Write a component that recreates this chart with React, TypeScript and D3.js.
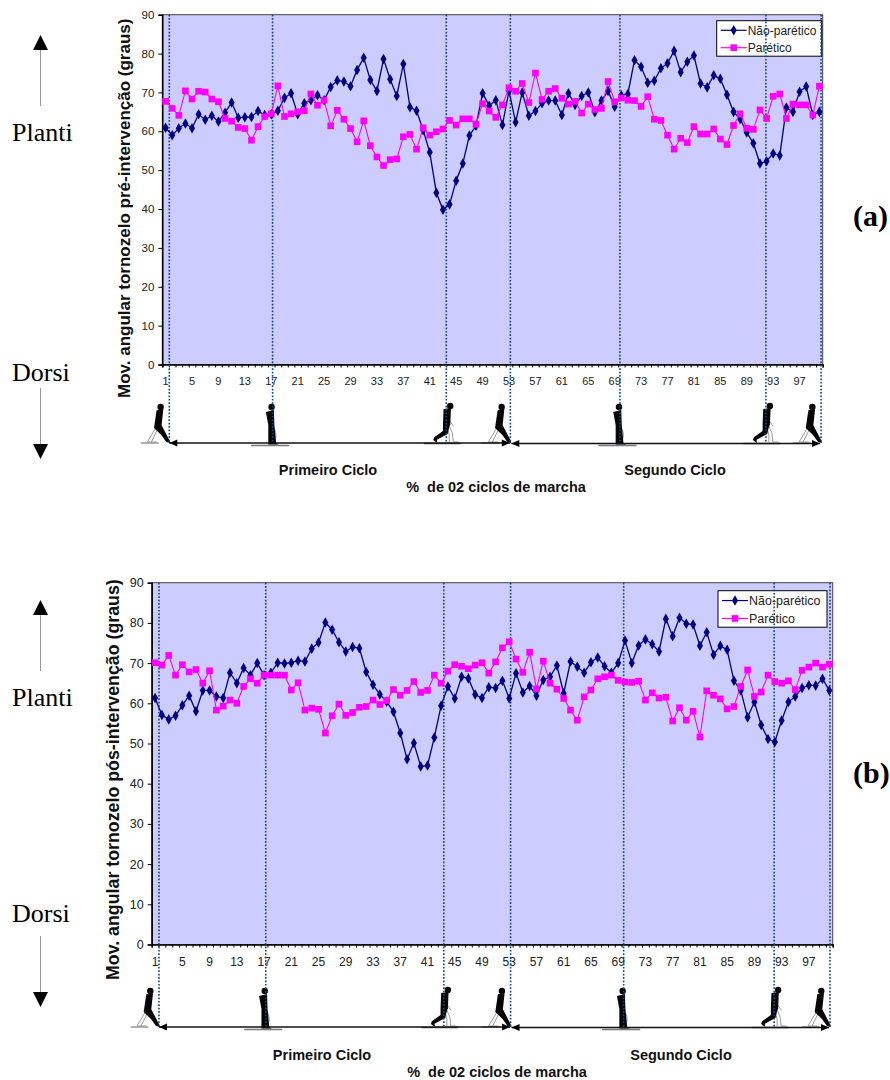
import React, { useEffect, useRef } from 'react'
import * as d3 from 'd3'

// Values, one per % of the two gait cycles (1 to 100)
const preNaoParetico = [
  60.9, 59.0, 60.8, 62.0, 60.8, 64.4, 63.0, 64.0, 62.5, 64.8, 67.4, 63.5, 63.6, 63.7, 65.2, 64.2, 64.4, 65.3, 68.6, 69.8,
  64.4, 67.2, 68.0, 69.3, 68.0, 71.4, 73.1, 72.8, 71.6, 75.8, 78.9, 73.2, 70.4, 78.6, 73.4, 69.1, 77.3, 66.2, 65.3, 60.3,
  54.6, 44.2, 39.8, 41.2, 47.3, 51.7, 58.9, 61.4, 69.8, 66.6, 68.0, 61.6, 70.4, 62.3, 70.0, 64.0, 65.2, 67.2, 67.9, 67.9,
  64.2, 69.8, 66.8, 69.1, 70.0, 64.9, 67.9, 70.4, 66.3, 69.3, 69.6, 78.3, 76.6, 72.5, 73.0, 76.2, 77.5, 80.7, 75.2, 77.9,
  79.5, 72.3, 71.3, 74.4, 73.5, 69.4, 65.0, 63.2, 59.7, 56.9, 51.7, 52.3, 54.3, 53.8, 66.1, 65.0, 70.2, 71.5, 64.2, 65.0,
]
const preParetico = [
  67.7, 65.9, 64.1, 70.4, 68.3, 70.3, 70.1, 68.3, 67.6, 63.3, 62.6, 61.0, 60.7, 57.7, 61.2, 63.8, 64.5, 71.7, 63.8, 64.5,
  65.0, 65.3, 69.6, 66.7, 68.0, 61.4, 65.4, 63.1, 60.7, 57.3, 62.7, 56.3, 53.4, 51.2, 52.7, 52.9, 58.6, 59.2, 55.4, 60.9,
  59.0, 59.9, 60.6, 62.8, 61.6, 63.2, 63.2, 61.8, 67.1, 65.2, 63.6, 66.8, 71.2, 70.3, 72.3, 67.4, 75.0, 68.2, 70.3, 71.0,
  68.5, 67.0, 67.7, 64.7, 67.0, 65.6, 65.9, 72.8, 67.6, 68.6, 68.0, 67.9, 66.4, 68.9, 63.1, 62.8, 59.0, 55.4, 58.2, 57.1,
  61.2, 59.3, 59.3, 60.6, 58.0, 56.6, 61.5, 64.5, 60.8, 60.5, 65.5, 63.3, 69.0, 69.6, 63.3, 67.0, 66.8, 66.8, 64.2, 71.6,
]
const posNaoParetico = [
  61.3, 57.1, 56.0, 56.9, 59.5, 61.9, 58.0, 63.2, 63.2, 61.7, 61.3, 67.6, 65.0, 68.8, 67.0, 70.0, 67.0, 67.6, 70.1, 69.9,
  70.1, 70.6, 70.4, 73.6, 75.1, 80.1, 78.3, 75.2, 72.9, 74.0, 73.7, 67.8, 64.6, 62.2, 60.4, 57.9, 52.6, 46.1, 50.1, 44.3,
  44.5, 51.5, 59.4, 64.2, 61.2, 66.6, 66.2, 62.2, 61.3, 64.0, 63.8, 65.6, 61.2, 67.5, 62.7, 64.3, 61.9, 65.8, 66.6, 69.4,
  62.5, 70.4, 69.1, 67.6, 70.2, 71.4, 69.2, 67.6, 70.0, 75.6, 70.0, 74.4, 75.9, 74.7, 72.9, 81.0, 76.7, 81.3, 79.8, 79.6,
  74.3, 77.7, 72.1, 74.3, 73.3, 65.6, 63.2, 56.5, 60.3, 54.6, 51.1, 50.4, 55.7, 60.3, 61.7, 63.8, 64.5, 64.4, 66.1, 63.2,
]
const posParetico = [
  70.1, 69.5, 71.9, 67.0, 69.6, 67.8, 68.4, 65.0, 68.1, 58.3, 59.3, 60.8, 60.0, 64.2, 66.1, 65.0, 67.0, 67.0, 67.0, 67.0,
  63.3, 65.1, 58.3, 58.8, 58.5, 52.6, 56.9, 59.8, 57.0, 57.7, 59.0, 59.2, 60.8, 59.7, 60.7, 63.4, 62.0, 63.2, 65.4, 62.7,
  63.2, 67.0, 65.0, 68.0, 69.6, 69.2, 68.6, 69.5, 70.1, 67.5, 70.3, 73.8, 75.3, 71.0, 67.7, 72.7, 63.6, 70.5, 65.0, 63.5,
  61.2, 58.3, 55.8, 61.6, 63.3, 66.1, 66.6, 67.0, 65.7, 65.3, 65.2, 65.5, 60.8, 62.6, 61.3, 61.5, 55.6, 58.9, 55.8, 58.0,
  51.6, 63.1, 62.0, 61.1, 58.6, 59.2, 64.2, 68.3, 61.7, 62.8, 67.0, 65.4, 65.0, 65.6, 63.4, 68.2, 69.0, 70.0, 69.0, 69.7,
]

const categories = d3.range(1, 101)
const yTicks = [0, 10, 20, 30, 40, 50, 60, 70, 80, 90]
const xLabels = categories.filter(d => (d - 1) % 4 === 0 && d < 100)
const seriesNames = ['Não-parético', 'Parético']
const navy = '#000080'
const magenta = '#ff00ff'

// gait events, in category widths from the left edge of the plot
const eventsPre = [1.06, 16.7, 43, 52.7, 69.3, 91.4, 99.75]
const eventsPos = [1.07, 16.75, 42.9, 52.7, 69.3, 91.4, 99.6]
const eventPoses = ['toe', 'stand', 'stride', 'toe', 'stand', 'stride', 'toe']

const sans = '"Liberation Sans", Arial, sans-serif'
const serif = '"Liberation Serif", "Times New Roman", serif'

// little walking silhouettes under the axis; (x, y) is the dotted line on the ground
function drawWalker(g, pose, x, y) {
  const w = g.append('g').attr('transform', `translate(${x},${y})`).attr('stroke-linecap', 'round')
  const ground = (d, color) => w.append('path').attr('d', d).attr('fill', 'none').attr('stroke', color).attr('stroke-width', 1.3)
  const ghost = d => w.append('path').attr('d', d).attr('fill', 'none').attr('stroke', '#999').attr('stroke-width', 1)
  const body = d => w.append('path').attr('d', d).attr('fill', '#050505')
  const head = (cx, cy) => w.append('circle').attr('cx', cx).attr('cy', cy).attr('r', 3.2).attr('fill', '#050505')

  if (pose === 'toe') {
    ground('M-28,0 H-11', '#999')
    ghost('M-13,-16 L-22,-1 H-17 M-11,-15 L-18,-1 H-13')
    body('M-12.7,-32.7 L-6,-33.7 L-7.7,-17.7 L-0,-3 L1,0 L-3,-1 L-8,-8 L-15.3,-15 Z')
    head(-8.7, -36)
  } else if (pose === 'stand') {
    ground('M-21,2.5 H16', '#777')
    ghost('M0,-17 Q6,-10 2,-2')
    body('M-6.7,-31 L1.3,-33 L1.8,-18 L3.5,0 L6,1.5 L-4.3,1.5 L-4.3,-18 Z')
    head(-1, -36)
  } else {
    ground('M-22,0.5 H14', '#555')
    ghost('M3,-17 L6,-10 L7,-1 H12 M1,-16 L3,-8 L3,-1 M2,-24 L7,-17')
    body('M-2.7,-34 L4.7,-35 L4,-18 L3.3,-17.3 L1.3,-9 L-9.3,-3.3 L-9,0 L-13,-3 L-12,-5.7 L-3.3,-12 L-3.3,-18 Z')
    head(4, -37)
  }
}

function drawPanel(root, p) {
  const { left, right, top, bottom } = p

  const x = d3.scaleBand().domain(categories).range([left, right])
  const edge = d3.scaleLinear().domain([0, 100]).range([left, right])
  const y = d3.scaleLinear().domain([0, 90]).range([bottom, top])

  root.append('rect')
    .attr('x', left).attr('y', top)
    .attr('width', right - left).attr('height', bottom - top)
    .attr('fill', '#ccccff').attr('stroke', '#444').attr('stroke-width', 1)

  // y axis
  const yAxis = root.append('g')
    .attr('transform', `translate(${left},0)`)
    .call(d3.axisLeft(y).tickValues(yTicks).tickSize(4).tickPadding(4))
  yAxis.select('.domain').attr('stroke', '#000').attr('stroke-width', 1.5)
  yAxis.selectAll('text').attr('font-family', sans).attr('font-size', p.tickFont).attr('fill', '#222')

  // x axis: ticks on the category edges, labels on the centres
  const xTickAxis = root.append('g')
    .attr('transform', `translate(0,${bottom})`)
    .call(d3.axisBottom(edge).tickValues(d3.range(0, 101)).tickSize(3).tickFormat(() => ''))
  xTickAxis.select('.domain').attr('stroke', '#000').attr('stroke-width', 1.5)

  const xAxis = root.append('g')
    .attr('transform', `translate(0,${bottom})`)
    .call(d3.axisBottom(x).tickValues(xLabels).tickSize(0).tickPadding(p.xLabelPad))
  xAxis.select('.domain').remove()
  xAxis.selectAll('text').attr('font-family', sans).attr('font-size', p.xFont).attr('fill', '#222')

  // walkers and the two cycle arrows
  const figures = root.append('g')
  p.events.forEach((d, i) => drawWalker(figures, eventPoses[i], edge(d), p.groundY))

  const arrow = (x1, x2, yy) => {
    figures.append('line').attr('x1', x1).attr('x2', x2).attr('y1', yy).attr('y2', yy)
      .attr('stroke', '#111').attr('stroke-width', 1.4)
    const head = (tip, dir) => figures.append('path')
      .attr('d', `M${tip},${yy} L${tip + dir * 8},${yy - 3.5} L${tip + dir * 8},${yy + 3.5} Z`)
      .attr('fill', '#000')
    head(x1, 1)
    head(x2, -1)
  }
  arrow(edge(p.events[0]), edge(p.events[3]) - 0.5, p.groundY)
  arrow(edge(p.events[3]) + 1, edge(p.events[6]) - 1, p.groundY + 0.5)

  // legend
  const lg = root.append('g').attr('transform', `translate(${p.legend.x},${p.legend.y})`)
  lg.append('rect')
    .attr('width', p.legend.w).attr('height', p.legend.h)
    .attr('fill', '#fff').attr('stroke', '#000').attr('stroke-width', 1)
  seriesNames.forEach((name, i) => {
    const ly = p.legend.h * (i === 0 ? 0.27 : 0.76)
    const color = i === 0 ? navy : magenta
    lg.append('line').attr('x1', 4).attr('x2', 30).attr('y1', ly).attr('y2', ly)
      .attr('stroke', color).attr('stroke-width', 1.2)
    lg.append('path')
      .attr('transform', `translate(17,${ly})`)
      .attr('d', d3.symbol().type(i === 0 ? d3.symbolDiamond : d3.symbolSquare).size(i === 0 ? 32 : 44)())
      .attr('fill', color)
    lg.append('text').attr('x', 31).attr('y', ly + 4.5)
      .attr('font-family', sans).attr('font-size', p.legend.font).attr('fill', '#222').text(name)
  })

  // dotted event lines run down through the figures
  root.append('g').selectAll('line')
    .data(p.events)
    .enter()
    .append('line')
    .attr('x1', d => edge(d)).attr('x2', d => edge(d))
    .attr('y1', top).attr('y2', p.groundY)
    .attr('stroke', '#0b4a86').attr('stroke-width', 1.6).attr('stroke-dasharray', '1.7 1.7')

  // series
  const line = d3.line().x((d, i) => x(categories[i]) + x.bandwidth() / 2).y(d => y(d))
  const drawSeries = (values, color, width, type, size) => {
    root.append('path').datum(values)
      .attr('d', line).attr('fill', 'none').attr('stroke', color).attr('stroke-width', width)
    root.append('g').selectAll('path')
      .data(values)
      .enter()
      .append('path')
      .attr('transform', (d, i) => `translate(${x(categories[i]) + x.bandwidth() / 2},${y(d)})`)
      .attr('d', d3.symbol().type(type).size(size)())
      .attr('fill', color)
  }
  drawSeries(p.naoParetico, navy, 1.3, d3.symbolDiamond, 32)
  drawSeries(p.paretico, magenta, 1.1, d3.symbolSquare, 44)

  // texts
  const boldText = (tx, ty, text) => root.append('text')
    .attr('x', tx).attr('y', ty).attr('text-anchor', 'middle')
    .attr('font-family', sans).attr('font-size', 14.5).attr('font-weight', 'bold').attr('fill', '#111')
    .text(text)
  boldText(p.cycleX[0], p.cycleY, 'Primeiro Ciclo')
  boldText(p.cycleX[1], p.cycleY, 'Segundo Ciclo')
  boldText(p.cycleX[2], p.cycleY + 17, '%\u00a0\u00a0de 02 ciclos de marcha')

  root.append('text')
    .attr('transform', `translate(${p.title.x},${p.title.y}) rotate(-90)`)
    .attr('font-family', sans).attr('font-size', p.title.size).attr('font-weight', 'bold').attr('fill', '#111')
    .text(p.title.text)

  // Planti / Dorsi direction arrows
  const side = root.append('g')
  const sideText = (ty, text) => side.append('text').attr('x', 12).attr('y', ty)
    .attr('font-family', serif).attr('font-size', 26).attr('fill', '#000').text(text)
  sideText(p.plantiY, 'Planti')
  sideText(p.dorsiY, 'Dorsi')
  side.append('line').attr('x1', 40.5).attr('x2', 40.5).attr('y1', p.upArrow + 15).attr('y2', p.upArrow + 71)
    .attr('stroke', '#999').attr('stroke-width', 1)
  side.append('path').attr('d', `M40.5,${p.upArrow} L48,${p.upArrow + 15} L33,${p.upArrow + 15} Z`).attr('fill', '#000')
  side.append('line').attr('x1', 40.5).attr('x2', 40.5).attr('y1', p.downArrow - 71).attr('y2', p.downArrow - 15)
    .attr('stroke', '#999').attr('stroke-width', 1)
  side.append('path').attr('d', `M40.5,${p.downArrow} L48,${p.downArrow - 15} L33,${p.downArrow - 15} Z`).attr('fill', '#000')

  root.append('text').attr('x', 853).attr('y', p.tagY)
    .attr('font-family', serif).attr('font-size', 30).attr('font-weight', 'bold').attr('fill', '#000')
    .text(p.tag)
}

export default function App() {
  const ref = useRef(null)

  useEffect(() => {
    const svg = d3.select(ref.current)
    svg.selectAll('*').remove()

    drawPanel(svg.append('g'), {
      left: 162.3, right: 822.7, top: 14.7, bottom: 364.5,
      xLabelPad: 13, tickFont: 11.5, xFont: 11,
      naoParetico: preNaoParetico, paretico: preParetico, events: eventsPre,
      groundY: 443,
      legend: { x: 716.7, y: 20.7, w: 105, h: 35.5, font: 12 },
      cycleX: [328, 675, 496], cycleY: 475,
      title: { x: 129.5, y: 398, size: 17, text: 'Mov. angular tornozelo pré-intervenção (graus)' },
      plantiY: 141, dorsiY: 381, upArrow: 35, downArrow: 459,
      tag: '(a)', tagY: 226,
    })

    drawPanel(svg.append('g'), {
      left: 151.7, right: 832.7, top: 582.7, bottom: 944.5,
      xLabelPad: 13, tickFont: 12.5, xFont: 12,
      naoParetico: posNaoParetico, paretico: posParetico, events: eventsPos,
      groundY: 1027,
      legend: { x: 718, y: 590.7, w: 109, h: 36.5, font: 12.5 },
      cycleX: [322, 681, 497], cycleY: 1060,
      title: { x: 118.5, y: 980, size: 17.8, text: 'Mov. angular tornozelo pós-intervenção (graus)' },
      plantiY: 706, dorsiY: 922, upArrow: 600, downArrow: 1007,
      tag: '(b)', tagY: 783,
    })
  }, [])

  return (
    <svg
      ref={ref}
      width={890}
      height={1080}
      style={{ position: 'absolute', top: 0, left: 0, background: '#fff' }}
    />
  )
}
